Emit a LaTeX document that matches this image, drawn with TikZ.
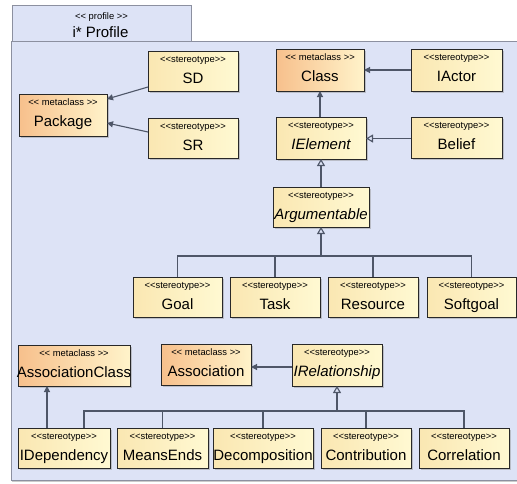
\documentclass[tikz,border=0pt]{standalone}
\usepackage{fontspec}
\newfontfamily\umlfont{Liberation Sans}
\usetikzlibrary{arrows.meta,shadows,fit,calc}
\definecolor{bgc}{RGB}{221,227,246}
\definecolor{framec}{RGB}{140,144,160}
\definecolor{linec}{RGB}{78,86,104}
\definecolor{stL}{RGB}{250,231,178}
\definecolor{stR}{RGB}{255,249,210}
\definecolor{mcL}{RGB}{247,192,140}
\definecolor{mcR}{RGB}{255,243,202}
\definecolor{boxc}{RGB}{40,40,40}
\tikzset{
 boxbase/.style={draw=boxc, line width=0.9pt, inner sep=0pt, outer sep=0pt,
   drop shadow={shadow xshift=1.5pt, shadow yshift=-1.5pt, fill=black!40, opacity=0.5}},
 stereobox/.style={boxbase, left color=stL, right color=stR},
 metabox/.style={boxbase, left color=mcL, right color=mcR},
 sttext/.style={font=\umlfont\fontsize{9.4}{11}\selectfont, anchor=base, inner sep=0pt},
 nmtext/.style={font=\umlfont\fontsize{15}{18}\selectfont, anchor=base, inner sep=0pt},
 ext/.style={draw=linec, line width=1.1pt, -{Triangle[length=6pt,width=6pt]}},
 gen/.style={draw=linec, line width=1.1pt, -{Triangle[open,length=7pt,width=8pt,fill=bgc]}},
 conn/.style={draw=linec, line width=1.1pt},
}
\newcommand\ubox[8]{%
  \node[#2, fit={(#3,#4) (#5,#6)}] (#1) {};
  \node[sttext] (#1-st) at ([yshift=-11.5pt]#1.north) {#7};
  \node[nmtext] (#1-nm) at ([yshift=-32pt]#1.north) {#8};
}
\begin{document}
\begin{tikzpicture}[x=1pt,y=-1pt]
\useasboundingbox (0,0) rectangle (517,483);
\fill[white] (0,0) rectangle (517,483);
% frame
\path[fill=bgc, draw=framec, line width=0.8pt] (12,5) rectangle (191,41);
\path[fill=bgc, draw=framec, line width=0.8pt,
  drop shadow={shadow xshift=1pt, shadow yshift=-1.5pt, fill=black!40, opacity=0.5}] (11,41) rectangle (530,480);
\node[sttext] (tabst) at (101.5,19.5) {<< profile >>};
\node[nmtext] (tabnm) at (100.5,37) {i* Profile};
% boxes
\ubox{package}{metabox}{19}{94}{107}{136}{<< metaclass >>}{Package}
\ubox{sd}{stereobox}{148}{51}{238}{91}{<<stereotype>>}{SD}
\ubox{sr}{stereobox}{148}{118}{238}{158}{<<stereotype>>}{SR}
\ubox{class}{metabox}{276}{49}{364}{91}{<< metaclass >>}{Class}
\ubox{iactor}{stereobox}{411}{49}{502}{91}{<<stereotype>>}{IActor}
\ubox{ielement}{stereobox}{276}{117}{366}{159}{<<stereotype>>}{\itshape IElement}
\ubox{belief}{stereobox}{411}{117}{502}{158}{<<stereotype>>}{Belief}
\ubox{argumentable}{stereobox}{273}{187}{369}{227}{<<stereotype>>}{\itshape Argumentable}
\ubox{goal}{stereobox}{133}{277}{222}{317}{<<stereotype>>}{Goal}
\ubox{task}{stereobox}{230}{277}{320}{317}{<<stereotype>>}{Task}
\ubox{resource}{stereobox}{328}{277}{418}{317}{<<stereotype>>}{Resource}
\ubox{softgoal}{stereobox}{427}{277}{516}{317}{<<stereotype>>}{Softgoal}
\ubox{assocclass}{metabox}{18}{345}{130}{386}{<< metaclass >>}{AssociationClass}
\ubox{association}{metabox}{161}{344}{251}{385}{<< metaclass >>}{Association}
\ubox{irel}{stereobox}{292}{344}{382}{386}{<<stereotype>>}{\itshape IRelationship}
\ubox{idep}{stereobox}{18}{428}{110}{468}{<<stereotype>>}{IDependency}
\ubox{meansends}{stereobox}{117}{428}{208}{468}{<<stereotype>>}{MeansEnds}
\ubox{decomp}{stereobox}{213}{428}{313}{468}{<<stereotype>>}{Decomposition}
\ubox{contrib}{stereobox}{321}{428}{411}{468}{<<stereotype>>}{Contribution}
\ubox{correl}{stereobox}{419}{428}{509}{468}{<<stereotype>>}{Correlation}
% connectors
\draw[ext] ([yshift=-16pt]sd.west) -- ([yshift=16pt]package.east);
\draw[ext] ([yshift=6pt]sr.west) -- ([yshift=-8pt]package.east);
\draw[ext] (iactor.west) -- (class.east);
\draw[ext] (class.south |- ielement.north) -- (class.south);
\draw[gen] ([yshift=-1pt]belief.west) -- ([yshift=-1pt]belief.west -| ielement.east);
\draw[gen] (argumentable.north) -- (argumentable.north |- ielement.south);
\coordinate (busA) at (321,256);
\draw[conn] (goal.north) -- (goal.north |- busA) -- (softgoal.north |- busA) -- (softgoal.north);
\draw[conn] (task.north) -- (task.north |- busA);
\draw[conn] (resource.north) -- (resource.north |- busA);
\draw[gen] (busA) -- (argumentable.south);
\coordinate (busB) at (337,411);
\draw[conn] ([xshift=20pt]idep.north) -- ([xshift=20pt]idep.north |- busB) -- (correl.north |- busB) -- (correl.north);
\draw[conn] (meansends.north) -- (meansends.north |- busB);
\draw[conn] (decomp.north) -- (decomp.north |- busB);
\draw[conn] (contrib.north) -- (contrib.north |- busB);
\draw[gen] (busB) -- (irel.south);
\draw[ext] ([xshift=-17pt]idep.north) -- ([xshift=-17pt]idep.north |- assocclass.south);
\draw[ext] ([yshift=-2pt]irel.west) -- ([yshift=-2pt]irel.west -| association.east);
\end{tikzpicture}
\end{document}
